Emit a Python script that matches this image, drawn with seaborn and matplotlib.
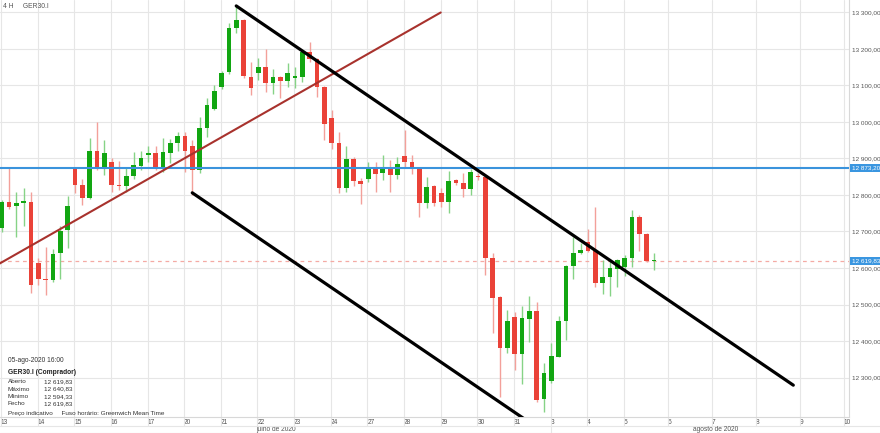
import numpy as np
import pandas as pd
import matplotlib
matplotlib.use("Agg")
import matplotlib.pyplot as plt
import seaborn as sns

# velas de 4 horas GER30.I, 13-jul-2020 .. 05-ago-2020 16:00
opens = [12710, 12781, 12770, 12778, 12781, 12614, 12570, 12567, 12641, 12704,
         12871, 12827, 12792, 12921, 12874, 12890, 12827, 12825, 12852, 12879,
         12910, 12915, 12874, 12915, 12942, 12962, 12934, 12868, 12984, 13036,
         13096, 13137, 13258, 13279, 13123, 13134, 13151, 13107, 13123, 13112,
         13121, 13123, 13192, 13173, 13096, 13011, 12942, 12819, 12899, 12838,
         12844, 12871, 12860, 12877, 12855, 12907, 12890, 12871, 12778, 12825,
         12806, 12781, 12841, 12833, 12816, 12851, 12849, 12627, 12521, 12381,
         12466, 12364, 12460, 12482, 12241, 12290, 12356, 12455, 12606, 12641,
         12671, 12647, 12559, 12575, 12597, 12603, 12627, 12740, 12693, 12619.83]
highs = [12786, 12877, 12808, 12819, 12808, 12627, 12658, 12652, 12715, 12797,
         12877, 12844, 12956, 13000, 12951, 12901, 12893, 12874, 12918, 12921,
         12934, 12934, 12956, 12953, 12973, 12973, 12951, 13014, 13066, 13101,
         13140, 13271, 13318, 13282, 13164, 13175, 13200, 13145, 13126, 13162,
         13151, 13197, 13219, 13175, 13099, 13033, 12973, 12934, 12904, 12847,
         12890, 12890, 12910, 12896, 12904, 12978, 12910, 12877, 12849, 12827,
         12819, 12866, 12844, 12860, 12871, 12860, 12849, 12641, 12523, 12485,
         12479, 12496, 12523, 12507, 12340, 12395, 12469, 12608, 12685, 12668,
         12707, 12767, 12622, 12622, 12625, 12636, 12759, 12745, 12696, 12640.83]
lows = [12699, 12762, 12685, 12715, 12531, 12553, 12526, 12562, 12570, 12655,
        12806, 12773, 12790, 12868, 12855, 12808, 12814, 12808, 12844, 12868,
        12890, 12868, 12863, 12888, 12921, 12863, 12800, 12860, 12959, 13033,
        13090, 13132, 13244, 13121, 13074, 13115, 13082, 13077, 13066, 13096,
        13093, 13110, 13164, 13069, 12951, 12926, 12806, 12808, 12825, 12775,
        12836, 12808, 12841, 12808, 12844, 12874, 12858, 12740, 12764, 12770,
        12767, 12751, 12827, 12795, 12800, 12841, 12581, 12422, 12247, 12367,
        12321, 12282, 12397, 12233, 12205, 12285, 12356, 12403, 12570, 12638,
        12644, 12548, 12529, 12523, 12548, 12578, 12603, 12647, 12616, 12594.33]
closes = [12781, 12767, 12778, 12784, 12553, 12570, 12567, 12638, 12701, 12770,
          12827, 12792, 12921, 12874, 12915, 12827, 12825, 12852, 12882, 12901,
          12915, 12874, 12918, 12942, 12962, 12921, 12868, 12984, 13047, 13085,
          13134, 13258, 13279, 13126, 13093, 13151, 13107, 13123, 13112, 13134,
          13126, 13192, 13173, 13096, 12995, 12942, 12819, 12899, 12838, 12830,
          12871, 12858, 12877, 12855, 12885, 12890, 12871, 12778, 12822, 12778,
          12781, 12838, 12833, 12816, 12863, 12849, 12627, 12518, 12381, 12455,
          12364, 12463, 12482, 12238, 12312, 12359, 12455, 12606, 12641, 12649,
          12647, 12559, 12575, 12600, 12622, 12627, 12740, 12693, 12620, 12619.83]

day_labels = ["13", "14", "15", "16", "17", "20", "21", "22", "23", "24", "27", "28",
              "29", "30", "31", "3", "4", "5", "6", "7", "8", "9", "10"]
slots_per_day = [5] * 17 + [6] * 5   # dias futuros com 6 velas de 4h
month_labels = ["julho de 2020", "agosto de 2020"]

price_ticks = [12300, 12400, 12500, 12600, 12700, 12800, 12900, 13000, 13100, 13200, 13300]
last_price = 12619.83
resistance = 12873.20

# linhas de tendencia (indice da vela, preco)
trend_red_x, trend_red_y = [-0.3, 59.9], [12612, 13300]
chan_top_x, chan_top_y = [32, 108], [13318, 12279]
chan_bot_x, chan_bot_y = [26, 72], [12806, 12177]

info_rows = [("Aberto", 12619.83), ("Máximo", 12640.83), ("Mínimo", 12594.33), ("Fecho", 12619.83)]

GREEN, RED = "#12a612", "#ea4238"
GREEN_W, RED_W = "#86d386", "#f3a09a"
GRID = "#e6e6e6"
TXT = "#555555"


def br(v):
    return f"{v:,.2f}".replace(",", " ").replace(".", ",")


df = pd.DataFrame({"open": opens, "high": highs, "low": lows, "close": closes})
df["x"] = np.arange(len(df))
df["up"] = df["close"] >= df["open"]

sns.set_theme(style="white")
plt.rcParams["font.family"] = ["Liberation Sans", "DejaVu Sans"]

fig = plt.figure(figsize=(8.8, 4.33), dpi=100)
ax = fig.add_axes([0, 16 / 433, 849 / 880, 417 / 433])

tick_pos = -0.1 + np.concatenate([[0], np.cumsum(slots_per_day)])
ax.set_xticks(tick_pos)
ax.set_xticklabels(day_labels, fontsize=4.8, color=TXT, ha="left")
ax.set_yticks(price_ticks)
ax.yaxis.tick_right()
ax.set_yticklabels([br(p) for p in price_ticks], fontsize=4.6, color=TXT)
ax.tick_params(axis="x", length=0, pad=1.2)
ax.tick_params(axis="y", length=0, pad=2.5)
ax.grid(True, color=GRID, lw=0.8)
ax.set_axisbelow(True)
ax.set_xlim(-0.23, 115.6)
ax.set_ylim(12191.8, 13334.2)
for s in ["left", "top"]:
    ax.spines[s].set_visible(False)
for s in ["right", "bottom"]:
    ax.spines[s].set_color("#d8d8d8")
    ax.spines[s].set_linewidth(0.8)

# velas
wick_col = np.where(df["up"], GREEN_W, RED_W)
body_col = np.where(df["up"], GREEN, RED)
ax.vlines(df["x"], df["low"], df["high"], colors=wick_col, lw=1.0, zorder=2)
body_h = np.maximum((df["close"] - df["open"]).abs(), 2.5)
ax.bar(df["x"], body_h, bottom=np.minimum(df["open"], df["close"]), width=0.64,
       color=body_col, linewidth=0, zorder=3)

# linhas horizontais
ax.axhline(resistance, color="#3a93dc", lw=1.5, zorder=4)
ax.axhline(last_price, color="#f4aaa4", lw=0.9, ls=(0, (3, 3)), zorder=1)

# linhas de tendencia
sns.lineplot(x=trend_red_x, y=trend_red_y, ax=ax, color="#a8322d", lw=1.5, zorder=5)
sns.lineplot(x=chan_top_x, y=chan_top_y, ax=ax, color="black", lw=2.3, zorder=6)
sns.lineplot(x=chan_bot_x, y=chan_bot_y, ax=ax, color="black", lw=2.3, zorder=6)

# etiquetas de preco no eixo direito
for p in [resistance, last_price]:
    ax.annotate(br(p), xy=(1, p), xycoords=("axes fraction", "data"),
                xytext=(2, 0), textcoords="offset points", va="center", ha="left",
                fontsize=4.6, color="white", annotation_clip=False,
                bbox=dict(boxstyle="square,pad=0.25", fc="#3a96e0", ec="none"))

# separadores das datas
xt = ax.get_xaxis_transform()
ax.vlines(tick_pos, -9 / 417, 0, transform=xt, colors=GRID, lw=0.8, clip_on=False)
fig.add_artist(plt.Line2D([0, 1], [7 / 433, 7 / 433], color=GRID, lw=0.8))
month_split = tick_pos[15]
fig.add_artist(plt.Line2D([0, 1], [0, 0], color=GRID, lw=0.8))
ax.vlines([month_split], -16 / 417, -9 / 417, transform=xt, colors=GRID, lw=0.8, clip_on=False)
ax.text(month_split / 2, -12.5 / 417, month_labels[0], transform=xt, fontsize=4.8,
        color=TXT, ha="center", va="center")
fig.text(716 / 880, 3.5 / 433, month_labels[1], fontsize=4.8, color=TXT, ha="center", va="center")

# textos
ax.text(3 / 849, 1 - 7 / 417, "4 H     GER30.I", transform=ax.transAxes, fontsize=4.9,
        color=TXT, va="center", ha="left")
y0 = 1 - 360 / 417
ax.text(8 / 849, y0, "05-ago-2020 16:00", transform=ax.transAxes, fontsize=4.8,
        color="#333333", va="center")
ax.text(8 / 849, y0 - 12 / 417, "GER30.I (Comprador)", transform=ax.transAxes,
        fontsize=4.8, color="#222222", fontweight="bold", va="center")
for k, (lab, val) in enumerate(info_rows):
    yy = y0 - (21.7 + 7.4 * k) / 417
    ax.text(8 / 849, yy, lab, transform=ax.transAxes, fontsize=4.6, color="#333333", va="center")
    ax.text(44 / 849, yy, br(val), transform=ax.transAxes, fontsize=4.6, color="#333333", va="center")
ax.text(8 / 849, y0 - 53.3 / 417, "Preço indicativo     Fuso horário: Greenwich Mean Time",
        transform=ax.transAxes, fontsize=4.6, color="#333333", va="center")

fig.savefig("out.png", dpi=100)
